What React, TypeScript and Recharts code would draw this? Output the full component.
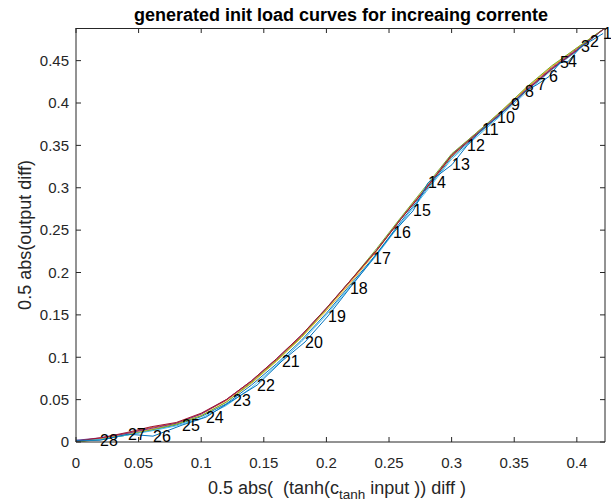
import React from 'react';
import { LineChart, Line, XAxis, YAxis, LabelList } from 'recharts';

// shared x grid for the bundle of init curves
const gridX = [0, 0.02, 0.04, 0.06, 0.08, 0.1, 0.12, 0.14, 0.16, 0.18, 0.2, 0.22, 0.24, 0.26, 0.28, 0.3, 0.32, 0.34, 0.36, 0.38, 0.4, 0.4225];

const curve1 = [0.001, 0.003, 0.008, 0.014, 0.02, 0.03, 0.045, 0.067, 0.092, 0.12, 0.152, 0.187, 0.222, 0.261, 0.298, 0.336, 0.362, 0.388, 0.415, 0.44, 0.462, 0.4885];
const curve2 = [0.0, 0.004, 0.01, 0.017, 0.022, 0.033, 0.049, 0.071, 0.097, 0.125, 0.157, 0.191, 0.226, 0.265, 0.301, 0.339, 0.365, 0.39, 0.417, 0.442, 0.464, 0.4885];
const curve3 = [0.001, 0.004, 0.009, 0.015, 0.021, 0.031, 0.047, 0.069, 0.095, 0.123, 0.155, 0.189, 0.225, 0.264, 0.3, 0.337, 0.364, 0.391, 0.418, 0.443, 0.465, 0.4885];
const curve4 = [0.002, 0.005, 0.01, 0.016, 0.022, 0.033, 0.05, 0.072, 0.098, 0.126, 0.158, 0.192, 0.226, 0.264, 0.3, 0.339, 0.364, 0.389, 0.416, 0.441, 0.463, 0.4885];
const curve5 = [0.0, 0.003, 0.008, 0.014, 0.021, 0.031, 0.047, 0.07, 0.096, 0.124, 0.157, 0.192, 0.228, 0.266, 0.303, 0.34, 0.365, 0.391, 0.419, 0.444, 0.465, 0.4885];
const curve6 = [0.001, 0.003, 0.008, 0.013, 0.019, 0.028, 0.043, 0.064, 0.09, 0.118, 0.15, 0.185, 0.22, 0.259, 0.296, 0.334, 0.36, 0.386, 0.413, 0.439, 0.461, 0.4885];
const curve7 = [0.001, 0.005, 0.011, 0.018, 0.023, 0.034, 0.05, 0.072, 0.098, 0.126, 0.158, 0.192, 0.226, 0.264, 0.3, 0.338, 0.363, 0.388, 0.415, 0.44, 0.462, 0.4885];

const bundle = [curve1, curve2, curve3, curve4, curve5, curve6, curve7];
const bundleColors = ['#0072BD', '#D95319', '#EDB120', '#7E2F8E', '#77AC30', '#4DBEEE', '#A2142F'];

// labelled curve (last one drawn), numbered points
const labX = [0, 0.0192, 0.0415, 0.0615, 0.0847, 0.1038, 0.1254, 0.1446, 0.1645, 0.1829, 0.2013, 0.2188, 0.2372, 0.2532, 0.2692, 0.2812, 0.3003, 0.3123, 0.3243, 0.3363, 0.3474, 0.3586, 0.3682, 0.3778, 0.3866, 0.393, 0.4034, 0.4105, 0.421];
const labY = [0.002, 0.0021, 0.0092, 0.0069, 0.0199, 0.0293, 0.0494, 0.0671, 0.0955, 0.118, 0.1487, 0.1818, 0.2161, 0.2468, 0.2728, 0.3059, 0.3272, 0.3497, 0.3686, 0.3827, 0.3981, 0.4135, 0.4217, 0.4312, 0.4478, 0.4488, 0.4667, 0.4726, 0.482];
const labText = ['', '28', '27', '26', '25', '24', '23', '22', '21', '20', '19', '18', '17', '16', '15', '14', '13', '12', '11', '10', '9', '8', '7', '6', '5', '4', '3', '2', '1'];

const xTicks = [0, 0.05, 0.1, 0.15, 0.2, 0.25, 0.3, 0.35, 0.4];
const yTicks = [0, 0.05, 0.1, 0.15, 0.2, 0.25, 0.3, 0.35, 0.4, 0.45];

const X_MAX = 0.4225;
const Y_MAX = 0.4885;
const FONT = '"Liberation Sans", Arial, Helvetica, sans-serif';
const AXIS = '#262626';

// plot box, matches the chart margins and axis sizes below
const BOX_L = 76;
const BOX_R = 605;
const BOX_T = 28;

const bundleData = bundle.map((ys) => gridX.map((x, i) => ({ x, y: ys[i] })));
const labelData = labX.map((x, i) => ({ x, y: labY[i], lab: labText[i] }));

const renderLab = (props: any) => {
  const { x, y, value } = props;
  if (!value) return null;
  return (
    <text x={x} y={y} dy="0.35em" fontSize={16} fill="#000" fontFamily={FONT}>
      {value}
    </text>
  );
};

const tickStyle = { fontSize: 15, fill: AXIS, fontFamily: FONT };

export default function App() {
  return (
    <div style={{ position: 'absolute', left: 0, top: 0, width: 611, height: 503, background: '#fff' }}>
      <LineChart width={611} height={503} margin={{ top: BOX_T, right: 0, left: 0, bottom: 0 }}>
        <XAxis
          dataKey="x"
          type="number"
          domain={[0, X_MAX]}
          ticks={xTicks}
          allowDataOverflow
          height={61}
          stroke={AXIS}
          tickSize={-5}
          tickMargin={20}
          tick={tickStyle}
        />
        <YAxis
          type="number"
          domain={[0, Y_MAX]}
          ticks={yTicks}
          allowDataOverflow
          width={BOX_L}
          stroke={AXIS}
          tickSize={-5}
          tickMargin={12}
          tick={tickStyle}
        />
        <YAxis
          yAxisId="right"
          orientation="right"
          type="number"
          domain={[0, Y_MAX]}
          ticks={yTicks}
          allowDataOverflow
          width={611 - BOX_R}
          stroke={AXIS}
          tickSize={-5}
          tickFormatter={() => ''}
        />
        {bundleData.map((d, i) => (
          <Line
            key={`c${i}`}
            data={d}
            dataKey="y"
            type="linear"
            stroke={bundleColors[i]}
            strokeWidth={1}
            dot={false}
            isAnimationActive={false}
          />
        ))}
        <Line
          data={labelData}
          dataKey="y"
          type="linear"
          stroke="#0072BD"
          strokeWidth={1}
          dot={false}
          isAnimationActive={false}
        >
          <LabelList dataKey="lab" content={renderLab} />
        </Line>
      </LineChart>
      <svg width={611} height={503} style={{ position: 'absolute', left: 0, top: 0, pointerEvents: 'none' }}>
        {/* top edge of the axes box with inward ticks */}
        <line x1={BOX_L} y1={BOX_T + 0.5} x2={BOX_R} y2={BOX_T + 0.5} stroke={AXIS} strokeWidth={1} />
        {xTicks.map((t) => {
          const px = BOX_L + (t / X_MAX) * (BOX_R - BOX_L);
          return <line key={`tt${t}`} x1={px} y1={BOX_T} x2={px} y2={BOX_T + 5} stroke={AXIS} strokeWidth={1} />;
        })}
        <text x={341} y={21} textAnchor="middle" fontSize={18} fontWeight="bold" fontFamily={FONT} fill="#000">
          generated init load curves for increaing corrente
        </text>
        <text
          x={337}
          y={494}
          textAnchor="middle"
          fontSize={18}
          fontFamily={FONT}
          fill={AXIS}
          style={{ whiteSpace: 'pre' }}
        >
          <tspan>{'0.5 abs(  (tanh(c'}</tspan>
          <tspan fontSize={13.5} dy={5}>tanh</tspan>
          <tspan dy={-5}>{' input )) diff )'}</tspan>
        </text>
        <text
          x={31}
          y={235}
          textAnchor="middle"
          fontSize={18}
          fontFamily={FONT}
          fill={AXIS}
          transform="rotate(-90, 31, 235)"
        >
          0.5 abs(output diff)
        </text>
      </svg>
    </div>
  );
}
